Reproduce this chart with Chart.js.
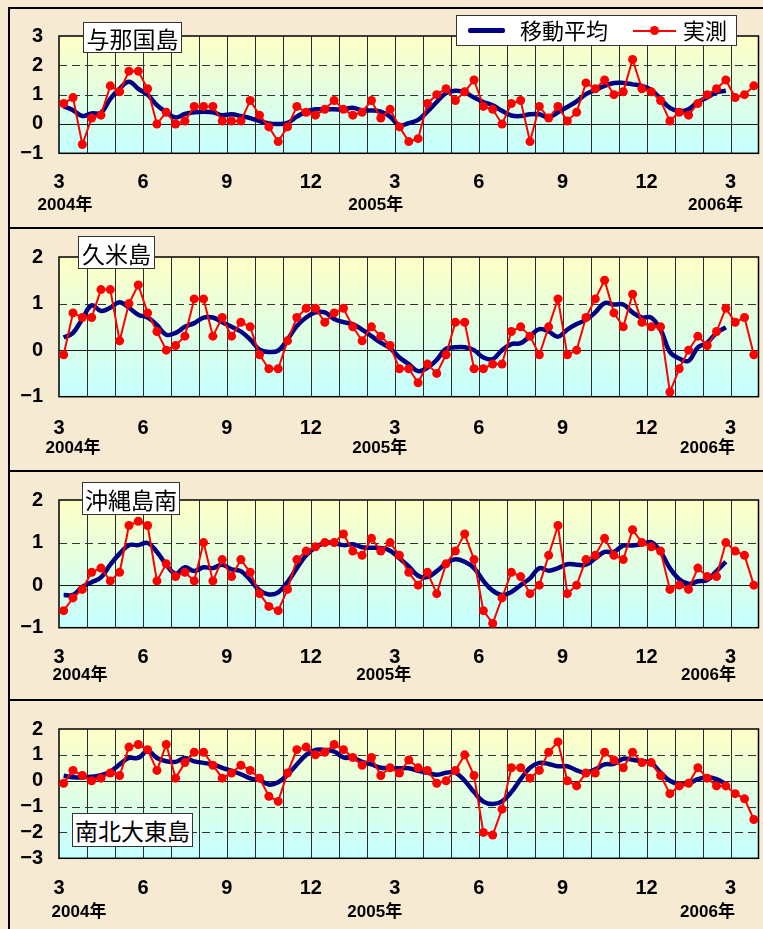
<!DOCTYPE html>
<html>
<head>
<meta charset="utf-8">
<script src="https://cdn.jsdelivr.net/npm/chart.js@4.4.1/dist/chart.umd.min.js"></script>
<style>
  body { margin: 0; width: 763px; height: 929px; background: #f6ead3; position: relative; overflow: hidden;
         font-family: "Noto Sans CJK JP", sans-serif; }
  .rule { position: absolute; left: 8px; right: 0; height: 2px; background: #000; }
  .wrap { position: absolute; left: 0; width: 763px; }
  .title { position: absolute; background: #fff; border: 1px solid #333; font-size: 23px; color: #000;
           display: flex; align-items: center; justify-content: center; box-sizing: border-box; }
  #legend { position: absolute; left: 456px; top: 15px; width: 281px; height: 31px; background: #fff;
            border: 1px solid #333; box-sizing: border-box; font-size: 22px; }
  #legend span { position: absolute; }
</style>
</head>
<body>
<div style="position:absolute;left:8px;top:7px;width:2px;height:922px;background:#000"></div>
<div class="rule" style="top:7px"></div>
<div class="rule" style="top:227px"></div>
<div class="rule" style="top:470px"></div>
<div class="rule" style="top:699px"></div>

<div class="wrap" style="top:8px;height:220px"><canvas id="c1" width="763" height="220"></canvas></div>
<div class="wrap" style="top:229px;height:242px"><canvas id="c2" width="763" height="242"></canvas></div>
<div class="wrap" style="top:472px;height:228px"><canvas id="c3" width="763" height="228"></canvas></div>
<div class="wrap" style="top:701px;height:228px"><canvas id="c4" width="763" height="228"></canvas></div>

<div class="title" style="left:83px;top:22px;width:99px;height:31px">与那国島</div>
<div class="title" style="left:78px;top:236px;width:77px;height:33px">久米島</div>
<div class="title" style="left:82px;top:482px;width:98px;height:33px">沖縄島南</div>
<div class="title" style="left:72px;top:813px;width:121px;height:34px">南北大東島</div>

<div id="legend">
  <span style="left:11px;top:12px;width:37px;height:5px;background:#000080;border-radius:2px"></span>
  <span style="left:63px;top:-3px">移動平均</span>
  <span style="left:176px;top:14px;width:43px;height:2px;background:#ff0000"></span>
  <span style="left:193px;top:10px;width:9px;height:9px;border-radius:50%;background:#ff0000"></span>
  <span style="left:226px;top:-3px">実測</span>
</div>

<script>
// 旬ごと (3 per month), 2004年3月上旬 – 2006年3月下旬
const xTickLabels = ["3", "6", "9", "12", "3", "6", "9", "12", "3"];
const yearLabels = ["2004年", "2005年", "2006年"];
const yearTickIndex = [0, 4, 8];

const yonaguniRange = [-1, 3];
const yonaguniObs = [0.7, 0.9, -0.7, 0.2, 0.3, 1.3, 1.1, 1.8, 1.8, 1.2,
  0.0, 0.4, 0.0, 0.1, 0.6, 0.6, 0.6, 0.1, 0.1, 0.1,
  0.8, 0.3, -0.1, -0.6, -0.1, 0.6, 0.4, 0.3, 0.5, 0.8,
  0.5, 0.3, 0.4, 0.8, 0.2, 0.5, -0.1, -0.6, -0.5, 0.7,
  1.0, 1.2, 0.8, 1.1, 1.5, 0.6, 0.5, 0.0, 0.7, 0.8,
  -0.6, 0.6, 0.2, 0.6, 0.1, 0.4, 1.4, 1.2, 1.5, 1.0,
  1.1, 2.2, 1.2, 1.1, 0.8, 0.1, 0.4, 0.3, 0.7, 1.0,
  1.2, 1.5, 0.9, 1.0, 1.3];
const yonaguniAvg = [0.6, 0.47, 0.27, 0.36, 0.38, 0.86, 1.2, 1.44, 1.2, 1.0,
  0.64, 0.4, 0.22, 0.34, 0.4, 0.42, 0.4, 0.3, 0.33, 0.27,
  0.2, 0.1, 0.02, 0.0, 0.04, 0.25, 0.42, 0.5, 0.5, 0.5,
  0.5, 0.55, 0.46, 0.46, 0.42, 0.25, -0.04, 0.03, 0.14, 0.42,
  0.75, 1.05, 1.13, 1.08, 0.9, 0.75, 0.64, 0.45, 0.29, 0.27,
  0.33, 0.33, 0.22, 0.4, 0.58, 0.77, 1.02, 1.16, 1.3, 1.4,
  1.4, 1.35, 1.3, 1.16, 0.86, 0.55, 0.44, 0.5, 0.75, 0.9,
  1.08, 1.13];

const kumeRange = [-1, 2];
const kumeObs = [-0.1, 0.8, 0.7, 0.7, 1.3, 1.3, 0.2, 1.0, 1.4, 0.8,
  0.4, 0.0, 0.1, 0.3, 1.1, 1.1, 0.3, 0.7, 0.3, 0.6,
  0.5, -0.1, -0.4, -0.4, 0.2, 0.7, 0.9, 0.9, 0.6, 0.8,
  0.9, 0.5, 0.2, 0.5, 0.3, 0.1, -0.4, -0.4, -0.7, -0.3,
  -0.5, -0.1, 0.6, 0.6, -0.4, -0.4, -0.3, -0.3, 0.4, 0.5,
  0.3, -0.1, 0.5, 1.1, -0.1, 0.0, 0.7, 1.1, 1.5, 0.8,
  0.5, 1.2, 0.6, 0.5, 0.5, -0.9, -0.4, 0.0, 0.3, 0.1,
  0.4, 0.9, 0.6, 0.7, -0.1];
const kumeAvg = [0.27, 0.37, 0.67, 0.96, 0.84, 0.91, 1.03, 0.91, 0.76, 0.7,
  0.54, 0.33, 0.37, 0.5, 0.58, 0.7, 0.7, 0.6, 0.5, 0.4,
  0.23, 0.01, -0.04, -0.01, 0.23, 0.52, 0.7, 0.81, 0.81, 0.67,
  0.6, 0.56, 0.44, 0.3, 0.16, 0.04, -0.16, -0.3, -0.45, -0.38,
  -0.21, 0.03, 0.06, 0.06, 0.0, -0.16, -0.19, 0.0, 0.13, 0.15,
  0.3, 0.45, 0.4, 0.29, 0.44, 0.56, 0.65, 0.81, 1.01, 0.98,
  0.98, 0.81, 0.7, 0.7, 0.44, -0.04, -0.18, -0.23, 0.06, 0.16,
  0.37, 0.49];

const okinawaRange = [-1, 2];
const okinawaObs = [-0.6, -0.3, -0.1, 0.3, 0.4, 0.1, 0.3, 1.4, 1.5, 1.4,
  0.1, 0.5, 0.2, 0.3, 0.1, 1.0, 0.1, 0.6, 0.2, 0.6,
  0.3, -0.2, -0.5, -0.6, -0.1, 0.6, 0.8, 0.9, 1.0, 1.0,
  1.2, 0.8, 0.7, 1.1, 0.8, 1.0, 0.7, 0.3, 0.0, 0.3,
  -0.2, 0.5, 0.8, 1.2, 0.6, -0.6, -0.9, -0.3, 0.3, 0.2,
  -0.2, 0.0, 0.7, 1.4, -0.2, 0.0, 0.6, 0.7, 1.1, 0.7,
  0.6, 1.3, 1.0, 0.9, 0.8, -0.1, 0.0, -0.1, 0.4, 0.2,
  0.2, 1.0, 0.8, 0.7, 0.0];
const okinawaAvg = [-0.23, -0.23, -0.04, 0.07, 0.18, 0.48, 0.74, 0.94, 0.94, 0.99,
  0.78, 0.48, 0.27, 0.42, 0.33, 0.42, 0.4, 0.48, 0.37, 0.33,
  0.12, -0.12, -0.22, -0.17, 0.07, 0.4, 0.7, 0.89, 0.99, 0.99,
  0.94, 0.96, 0.89, 0.88, 0.87, 0.81, 0.63, 0.44, 0.22, 0.19,
  0.33, 0.51, 0.61, 0.55, 0.4, 0.1, -0.13, -0.23, -0.16, 0.0,
  0.16, 0.4, 0.34, 0.4, 0.49, 0.48, 0.48, 0.63, 0.78, 0.78,
  0.93, 0.93, 0.96, 1.01, 0.78, 0.4, 0.14, 0.03, 0.09, 0.12,
  0.33, 0.55];

const minamiRange = [-3, 2];
const minamiObs = [-0.1, 0.4, 0.2, 0.0, 0.1, 0.3, 0.2, 1.3, 1.4, 1.2,
  0.4, 1.4, 0.1, 0.7, 1.1, 1.1, 0.6, 0.1, 0.3, 0.6,
  0.4, 0.1, -0.6, -0.8, 0.3, 1.2, 1.3, 1.0, 1.1, 1.4,
  1.2, 0.9, 0.6, 0.9, 0.2, 0.5, 0.3, 0.8, 0.5, 0.4,
  -0.1, 0.0, 0.4, 1.0, 0.2, -2.0, -2.1, -1.1, 0.5, 0.5,
  0.1, 0.4, 1.1, 1.5, 0.0, -0.2, 0.3, 0.3, 1.1, 0.8,
  0.5, 1.1, 0.7, 0.7, 0.2, -0.5, -0.2, -0.1, 0.5, 0.1,
  -0.2, -0.2, -0.5, -0.7, -1.5];
const minamiAvg = [0.19, 0.13, 0.13, 0.15, 0.21, 0.35, 0.63, 0.88, 0.88, 1.15,
  0.88, 0.75, 0.73, 0.88, 0.75, 0.69, 0.63, 0.5, 0.38, 0.25,
  0.09, 0.03, -0.15, -0.06, 0.23, 0.63, 1.0, 1.19, 1.19, 1.13,
  0.9, 0.88, 0.73, 0.63, 0.5, 0.48, 0.48, 0.48, 0.38, 0.31,
  0.23, 0.31, 0.31, 0.0, -0.44, -0.81, -0.9, -0.8, -0.44, 0.06,
  0.5, 0.69, 0.65, 0.56, 0.56, 0.4, 0.31, 0.44, 0.63, 0.65,
  0.85, 0.81, 0.75, 0.69, 0.31, 0.0, -0.13, -0.1, 0.06, 0.13,
  0.06, -0.13];

const DEKADS = 75;          // x axis length in 旬
const PER_MONTH = 3;
const TICK_STEP = 9;         // every 3 months

// panel layout (pixels), separate from data
const panels = [
  { id: "c1", obs: yonaguniObs, avg: yonaguniAvg, range: yonaguniRange, padTop: 23.7, axisH: 74.7, tickPad: 17.4, yearDy: 51.7, yearDx: [6, -19, -15] },
  { id: "c2", obs: kumeObs, avg: kumeAvg, range: kumeRange, padTop: 21, axisH: 74.3, tickPad: 19.3, yearDy: 51.3, yearDx: [14, -15, -23] },
  { id: "c3", obs: okinawaObs, avg: okinawaAvg, range: okinawaRange, padTop: 22.3, axisH: 72.3, tickPad: 17.3, yearDy: 47.3, yearDx: [21, -11, -22] },
  { id: "c4", obs: minamiObs, avg: minamiAvg, range: minamiRange, padTop: 24, axisH: 70.7, tickPad: 17.7, yearDy: 53.7, yearDx: [20, -20, -23] },
];

const tickFont = { family: '"Liberation Sans", Arial, sans-serif', size: 20, weight: "bold" };

// plot background, month lines, dashed value lines
const plotBackground = {
  id: "plotBackground",
  beforeDatasetsDraw(chart) {
    const { ctx, chartArea: a, scales: { x, y } } = chart;
    ctx.save();
    const g = ctx.createLinearGradient(0, a.top, 0, a.bottom);
    g.addColorStop(0, "#ffffc6");
    g.addColorStop(1, "#c4ffff");
    ctx.fillStyle = g;
    ctx.fillRect(a.left, a.top, a.width, a.height);

    ctx.strokeStyle = "#2b2b2b";
    ctx.lineWidth = 1;
    for (let m = PER_MONTH; m < DEKADS; m += PER_MONTH) {
      const px = Math.round(x.getPixelForValue(m)) + 0.5;
      ctx.beginPath(); ctx.moveTo(px, a.top); ctx.lineTo(px, a.bottom); ctx.stroke();
    }
    for (let v = y.min + 1; v < y.max; v++) {
      const py = Math.round(y.getPixelForValue(v)) + 0.5;
      ctx.setLineDash(v === 0 ? [] : [8, 5]);
      ctx.strokeStyle = v === 0 ? "#1a1a1a" : "#333";
      ctx.beginPath(); ctx.moveTo(a.left, py); ctx.lineTo(a.right, py); ctx.stroke();
    }
    ctx.setLineDash([]);
    ctx.strokeStyle = "#000";
    ctx.lineWidth = 1.5;
    ctx.strokeRect(a.left, a.top, a.width, a.height);
    ctx.restore();
  }
};

// year captions under the month ticks
const yearCaptions = {
  id: "yearCaptions",
  afterDraw(chart, args, opts) {
    const { ctx, chartArea: a, scales: { x } } = chart;
    ctx.save();
    ctx.font = 'bold 17px "Liberation Sans", "Noto Sans CJK JP", sans-serif';
    ctx.fillStyle = "#000";
    ctx.textAlign = "center";
    ctx.textBaseline = "middle";
    yearLabels.forEach((t, i) => {
      const px = x.getPixelForValue(yearTickIndex[i] * TICK_STEP) + opts.dx[i];
      ctx.fillText(t, px, a.bottom + opts.dy);
    });
    ctx.restore();
  }
};

function toPoints(values) {
  return values.map((v, i) => ({ x: i + 0.5, y: v }));
}

panels.forEach((p) => {
  new Chart(document.getElementById(p.id), {
    type: "line",
    data: {
      datasets: [
        {
          label: "実測",
          data: toPoints(p.obs),
          borderColor: "#ff0000",
          backgroundColor: "#ff0000",
          borderWidth: 2,
          pointRadius: 4.5,
          pointBorderWidth: 0,
          tension: 0,
          order: 0,
        },
        {
          label: "移動平均",
          data: toPoints(p.avg),
          borderColor: "#000080",
          borderWidth: 4.5,
          pointRadius: 0,
          tension: 0.4,
          order: 1,
        },
      ],
    },
    options: {
      responsive: false,
      animation: false,
      layout: { padding: { left: 0, right: 2, top: p.padTop, bottom: 0 } },
      plugins: {
        legend: { display: false },
        tooltip: { enabled: false },
        yearCaptions: { dx: p.yearDx, dy: p.yearDy },
      },
      scales: {
        x: {
          type: "linear",
          min: 0,
          max: DEKADS,
          grid: { display: false, drawTicks: false },
          border: { display: false },
          afterBuildTicks: (s) => { s.ticks = xTickLabels.map((_, i) => ({ value: i * TICK_STEP })); },
          afterFit: (s) => { s.height = p.axisH; },
          ticks: {
            autoSkip: false,
            maxRotation: 0,
            padding: p.tickPad,
            color: "#000",
            font: tickFont,
            callback: (v) => xTickLabels[Math.round(v / TICK_STEP)],
          },
        },
        y: {
          min: p.range[0],
          max: p.range[1],
          grid: { display: false, drawTicks: false },
          border: { display: false },
          afterFit: (s) => { s.width = 59; },
          ticks: {
            stepSize: 1,
            autoSkip: false,
            padding: 16,
            color: "#000",
            font: tickFont,
            callback: (v) => (v < 0 ? "\u2212" + (-v) : String(v)),
          },
        },
      },
    },
    plugins: [plotBackground, yearCaptions],
  });
});
</script>
</body>
</html>
